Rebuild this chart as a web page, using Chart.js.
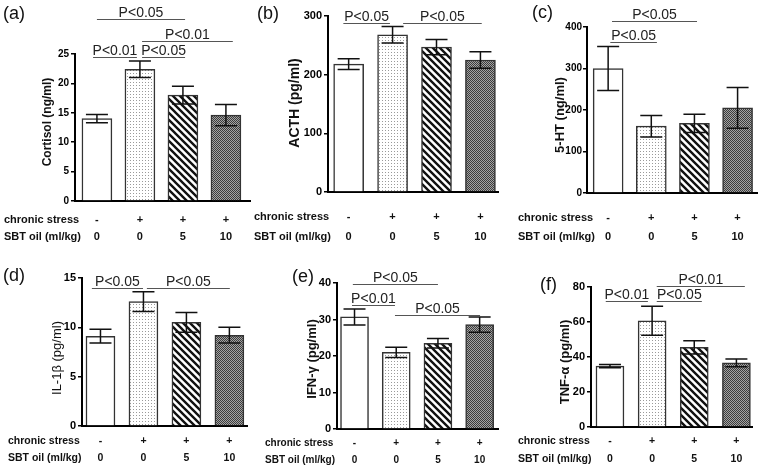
<!DOCTYPE html>
<html>
<head>
<meta charset="utf-8">
<script src="https://cdn.jsdelivr.net/npm/chart.js@4.4.1/dist/chart.umd.min.js"></script>
<style>
  html, body { margin: 0; padding: 0; background: #fff; }
  #figure { position: relative; width: 760px; height: 467px; overflow: hidden; }
  #figure canvas { position: absolute; left: 0; top: 0; }
</style>
</head>
<body>
<div id="figure">
  <canvas id="panelA" width="760" height="467"></canvas>
  <canvas id="panelB" width="760" height="467"></canvas>
  <canvas id="panelC" width="760" height="467"></canvas>
  <canvas id="panelD" width="760" height="467"></canvas>
  <canvas id="panelE" width="760" height="467"></canvas>
  <canvas id="panelF" width="760" height="467"></canvas>
</div>
<script>
const FONT = '"Liberation Sans", Arial, sans-serif';

// four groups: control, stress, stress + 5 ml/kg, stress + 10 ml/kg
const groups = [1, 2, 3, 4];
const stressRow = ['-', '+', '+', '+'];
const oilRow = ['0', '0', '5', '10'];

// means and error bars
const cortisol = [14.0, 22.4, 18.0, 14.6];
const cortisolErr = [0.7, 1.4, 1.5, 1.8];
const acth = [218, 268, 247, 225];
const acthErr = [9, 14, 13, 14];
const serotonin = [300, 161, 168, 205];
const serotoninErr = [53, 26, 22, 49];
const il1b = [9.1, 12.6, 10.5, 9.2];
const il1bErr = [0.7, 1.0, 1.0, 0.8];
const ifng = [30.7, 21.0, 23.5, 28.6];
const ifngErr = [2.2, 1.4, 1.3, 2.1];
const tnfa = [34.8, 60.7, 45.5, 36.7];
const tnfaErr = [0.9, 8.3, 3.8, 2.2];

// y axis: [max, step]
const cortisolAxis = [25, 5];
const acthAxis = [300, 100];
const serotoninAxis = [400, 100];
const il1bAxis = [15, 5];
const ifngAxis = [40, 10];
const tnfaAxis = [80, 20];

// significance lines: label, from group, to group, height in axis units
const cortisolSig = [
  ['P<0.05', 1.0, 3.05, 30.9],
  ['P<0.01', 2.05, 4.16, 27.2],
  ['P<0.01', 0.91, 1.93, 24.5],
  ['P<0.05', 2.05, 3.05, 24.5]
];
const acthSig = [
  ['P<0.05', 0.88, 1.94, 287.5],
  ['P<0.05', 2.24, 4.03, 287.5]
];
const serotoninSig = [
  ['P<0.05', 1.09, 3.06, 413.7],
  ['P<0.05', 1.05, 2.13, 364]
];
const il1bSig = [
  ['P<0.05', 0.8, 1.99, 14.0],
  ['P<0.05', 2.08, 4.01, 14.0]
];
const ifngSig = [
  ['P<0.05', 0.96, 3.0, 39.7],
  ['P<0.01', 0.94, 1.97, 34.0],
  ['P<0.05', 1.97, 4.01, 31.3]
];
const tnfaSig = [
  ['P<0.01', 0.9, 1.9, 72],
  ['P<0.05', 2.11, 3.18, 72],
  ['P<0.01', 2.11, 4.2, 80.4]
];

function makePattern(kind) {
  const c = document.createElement('canvas');
  const g = c.getContext('2d');
  if (kind === 'dots') {
    c.width = 3; c.height = 3;
    g.fillStyle = '#fff'; g.fillRect(0, 0, 3, 3);
    g.fillStyle = '#9a9a9a'; g.fillRect(1, 1, 1, 1);
  } else if (kind === 'hatch') {
    c.width = 7; c.height = 7;
    g.fillStyle = '#fff'; g.fillRect(0, 0, 7, 7);
    g.strokeStyle = '#111'; g.lineWidth = 2.4;
    g.beginPath();
    for (let k = -1; k <= 1; k++) {
      g.moveTo(k * 7 - 1, -1);
      g.lineTo(k * 7 + 8, 8);
    }
    g.stroke();
  } else {
    c.width = 2; c.height = 2;
    g.fillStyle = '#a4a4a4'; g.fillRect(0, 0, 2, 2);
    g.fillStyle = '#3c3c3c'; g.fillRect(0, 0, 1, 1); g.fillRect(1, 1, 1, 1);
  }
  return g.createPattern(c, 'repeat');
}

const fills = ['#fff', makePattern('dots'), makePattern('hatch'), makePattern('check')];

// area = [left, right, top, bottom] of the plot box in page pixels
const panels = [
  { id: 'panelA', letter: '(a)', title: 'Cortisol (ng/ml)', values: cortisol, errors: cortisolErr, axis: cortisolAxis, sig: cortisolSig,
    area: [75, 250, 54, 201], xRange: [0.49, 4.56], barWidth: 30, tickSize: 10, tickPad: 2,
    titleFont: 'bold 12px', titlePos: [48, 122], letterPos: [3, 14], rowLeft: 4, rowY: [19, 36], rowSize: 11 },
  { id: 'panelB', letter: '(b)', title: 'ACTH (pg/ml)', values: acth, errors: acthErr, axis: acthAxis, sig: acthSig,
    area: [328, 498, 16, 192], xRange: [0.53, 4.4], barWidth: 30, tickSize: 11, tickPad: 2,
    titleFont: 'bold 14px', titlePos: [295, 103], letterPos: [257, 14], rowLeft: 254, rowY: [25, 45], rowSize: 11 },
  { id: 'panelC', letter: '(c)', title: '5-HT (ng/ml)', values: serotonin, errors: serotoninErr, axis: serotoninAxis, sig: serotoninSig,
    area: [587, 757, 27, 193], xRange: [0.51, 4.45], barWidth: 30, tickSize: 10, tickPad: 1,
    titleFont: 'bold 13px', titlePos: [560, 115], letterPos: [532, 13], rowLeft: 518, rowY: [25, 44], rowSize: 11 },
  { id: 'panelD', letter: '(d)', title: 'IL-1β (pg/ml)', values: il1b, errors: il1bErr, axis: il1bAxis, sig: il1bSig,
    area: [82, 247, 278, 426], xRange: [0.57, 4.41], barWidth: 29, tickSize: 11, tickPad: 2,
    titleFont: '13px', titlePos: [57, 358], letterPos: [3, 276], rowLeft: 8, rowY: [15, 32], rowSize: 10.5 },
  { id: 'panelE', letter: '(e)', title: 'IFN-γ (pg/ml)', values: ifng, errors: ifngErr, axis: ifngAxis, sig: ifngSig,
    area: [337, 498, 283, 429], xRange: [0.58, 4.44], barWidth: 28, tickSize: 11, tickPad: 2,
    titleFont: 'bold 13px', titlePos: [312, 359], letterPos: [292, 277], rowLeft: 265, rowY: [14, 31], rowSize: 10 },
  { id: 'panelF', letter: '(f)', title: 'TNF-α (pg/ml)', values: tnfa, errors: tnfaErr, axis: tnfaAxis, sig: tnfaSig,
    area: [591, 752, 287, 427], xRange: [0.55, 4.37], barWidth: 28, tickSize: 11, tickPad: 2,
    titleFont: 'bold 13px', titlePos: [565, 362], letterPos: [540, 285], rowLeft: 518, rowY: [14, 32], rowSize: 10.5 }
];

function decorations(p) {
  return {
    id: 'decor' + p.id,
    afterDatasetsDraw(chart) {
      const { ctx, scales: { x, y } } = chart;
      ctx.save();
      ctx.strokeStyle = '#111';
      ctx.lineWidth = 1.5;
      groups.forEach((g, i) => {
        const cx = x.getPixelForValue(g);
        const hi = y.getPixelForValue(p.values[i] + p.errors[i]);
        const lo = y.getPixelForValue(p.values[i] - p.errors[i]);
        ctx.beginPath();
        ctx.moveTo(cx, hi); ctx.lineTo(cx, lo);
        ctx.moveTo(cx - 11, hi); ctx.lineTo(cx + 11, hi);
        ctx.moveTo(cx - 11, lo); ctx.lineTo(cx + 11, lo);
        ctx.stroke();
      });
      ctx.restore();
    },
    afterDraw(chart) {
      const { ctx, chartArea, scales: { x, y } } = chart;
      ctx.save();

      // significance lines
      ctx.font = '14px ' + FONT;
      ctx.textAlign = 'center';
      ctx.textBaseline = 'alphabetic';
      p.sig.forEach(([label, from, to, level]) => {
        const x1 = x.getPixelForValue(from);
        const x2 = x.getPixelForValue(to);
        const ly = Math.round(y.getPixelForValue(level)) + 0.5;
        ctx.strokeStyle = '#555';
        ctx.lineWidth = 1;
        ctx.beginPath();
        ctx.moveTo(x1, ly);
        ctx.lineTo(x2, ly);
        ctx.stroke();
        ctx.fillStyle = '#222';
        ctx.fillText(label, (x1 + x2) / 2, ly - 2.5);
      });

      // treatment rows under the axis
      ctx.fillStyle = '#111';
      ctx.font = 'bold ' + p.rowSize + 'px ' + FONT;
      ctx.textBaseline = 'middle';
      const r1 = chartArea.bottom + p.rowY[0];
      const r2 = chartArea.bottom + p.rowY[1];
      ctx.textAlign = 'left';
      ctx.fillText('chronic stress', p.rowLeft, r1);
      ctx.fillText('SBT oil (ml/kg)', p.rowLeft, r2);
      ctx.textAlign = 'center';
      groups.forEach((g, i) => {
        const cx = x.getPixelForValue(g);
        ctx.fillText(stressRow[i], cx, r1);
        ctx.fillText(oilRow[i], cx, r2);
      });

      // y axis title
      ctx.save();
      ctx.translate(p.titlePos[0], p.titlePos[1]);
      ctx.rotate(-Math.PI / 2);
      ctx.font = p.titleFont + ' ' + FONT;
      ctx.fillStyle = '#111';
      ctx.fillText(p.title, 0, 0);
      ctx.restore();

      // panel letter
      ctx.font = '18px ' + FONT;
      ctx.textAlign = 'left';
      ctx.fillStyle = '#111';
      ctx.fillText(p.letter, p.letterPos[0], p.letterPos[1]);
      ctx.restore();
    }
  };
}

panels.forEach(p => {
  const [left, right, top, bottom] = p.area;
  new Chart(document.getElementById(p.id), {
    type: 'bar',
    data: {
      datasets: [{
        data: groups.map((g, i) => ({ x: g, y: p.values[i] })),
        backgroundColor: fills,
        borderColor: '#333',
        borderWidth: 1.5,
        barThickness: p.barWidth
      }]
    },
    options: {
      responsive: false,
      animation: false,
      events: [],
      layout: { padding: { left: left - 40, right: 760 - right, top: top, bottom: 467 - bottom } },
      plugins: { legend: { display: false }, tooltip: { enabled: false } },
      scales: {
        x: {
          type: 'linear',
          min: p.xRange[0],
          max: p.xRange[1],
          offset: false,
          z: 1,
          ticks: { display: false },
          grid: { display: false, offset: false },
          border: { display: true, color: '#000', width: 2 },
          afterFit: s => { s.height = 0; }
        },
        y: {
          min: 0,
          max: p.axis[0],
          z: 1,
          ticks: {
            stepSize: p.axis[1],
            color: '#000',
            padding: p.tickPad,
            font: { family: FONT, size: p.tickSize, weight: 'bold' }
          },
          grid: { drawOnChartArea: false, drawTicks: true, tickLength: 4, color: '#000', lineWidth: 1.5 },
          border: { display: true, color: '#000', width: 2 },
          afterFit: s => { s.width = 40; }
        }
      }
    },
    plugins: [decorations(p)]
  });
});
</script>
</body>
</html>
